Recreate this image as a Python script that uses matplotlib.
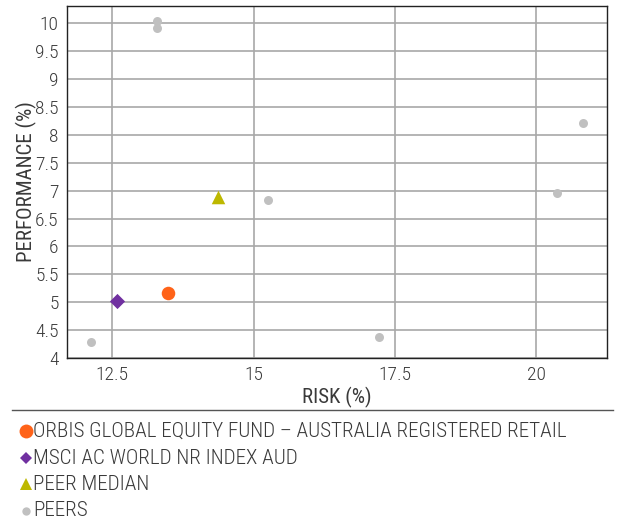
import matplotlib.pyplot as plt
from matplotlib.lines import Line2D

plt.rcParams['font.family'] = ['Roboto Condensed', 'DejaVu Sans Condensed',
                               'Liberation Sans Narrow', 'Roboto', 'DejaVu Sans']
plt.rcParams['font.weight'] = 'light'

# risk / performance (%)
fund_risk = [13.48]
fund_perf = [5.17]
index_risk = [12.59]
index_perf = [5.03]
median_risk = [14.37]
median_perf = [6.88]
peer_risk = [13.29, 13.29, 15.26, 17.21, 20.37, 20.83, 12.13]
peer_perf = [10.04, 9.91, 6.84, 4.37, 6.95, 8.21, 4.28]

series_names = ['ORBIS GLOBAL EQUITY FUND \u2013 AUSTRALIA REGISTERED RETAIL',
                'MSCI AC WORLD NR INDEX AUD',
                'PEER MEDIAN',
                'PEERS']

x_ticks = [12.5, 15, 17.5, 20]
y_ticks = [4, 4.5, 5, 5.5, 6, 6.5, 7, 7.5, 8, 8.5, 9, 9.5, 10]

orange = '#ff6319'
purple = '#7030a0'
olive = '#bdb800'
grey = '#c0c0c0'
txt = '#3a3a3a'

fig = plt.figure(figsize=(6.18, 5.22), dpi=100)
ax = fig.add_axes([67 / 618, 1 - 358 / 522, 540 / 618, 352 / 522])

ax.scatter(peer_risk, peer_perf, s=42, color=grey, zorder=3, linewidths=0)
ax.scatter(median_risk, median_perf, s=95, marker='^', color=olive, zorder=3, linewidths=0)
ax.scatter(index_risk, index_perf, s=60, marker='D', color=purple, zorder=3, linewidths=0)
ax.scatter(fund_risk, fund_perf, s=95, color=orange, zorder=3, linewidths=0)

ax.set_xlim(11.7, 21.25)
ax.set_ylim(4, 10.31)
ax.set_xticks(x_ticks)
ax.set_xticklabels([f'{v:g}' for v in x_ticks])
ax.set_yticks(y_ticks)
ax.set_yticklabels([f'{v:g}' for v in y_ticks])
ax.tick_params(length=0, labelsize=14, colors=txt, pad=6)
ax.grid(True, color='#a8a8a8', linewidth=1.2)
ax.set_axisbelow(True)
for sp in ax.spines.values():
    sp.set_color('#222222')
    sp.set_linewidth(1)

ax.set_xlabel('RISK (%)', fontsize=15, color=txt, labelpad=2)
ax.set_ylabel('PERFORMANCE (%)', fontsize=15, color=txt)
ax.yaxis.set_label_coords(-0.056, 0.5)

# separator above the legend
fig.add_artist(Line2D([12 / 618, 613 / 618], [1 - 410 / 522] * 2,
                      transform=fig.transFigure, color='#555555', linewidth=1))

# legend rows
styles = [('o', orange, 10), ('D', purple, 6.5), ('^', olive, 9), ('o', grey, 6)]
rows_y = [431, 458, 484, 511]
for name, (m, c, ms), yp in zip(series_names, styles, rows_y):
    y = 1 - yp / 522
    fig.add_artist(Line2D([26 / 618], [y], transform=fig.transFigure, marker=m,
                          color=c, markersize=ms, linestyle='none', markeredgewidth=0))
    fig.text(33 / 618, y, name, fontsize=15.2, color=txt, va='center', ha='left')

fig.savefig('out.png', dpi=100)
